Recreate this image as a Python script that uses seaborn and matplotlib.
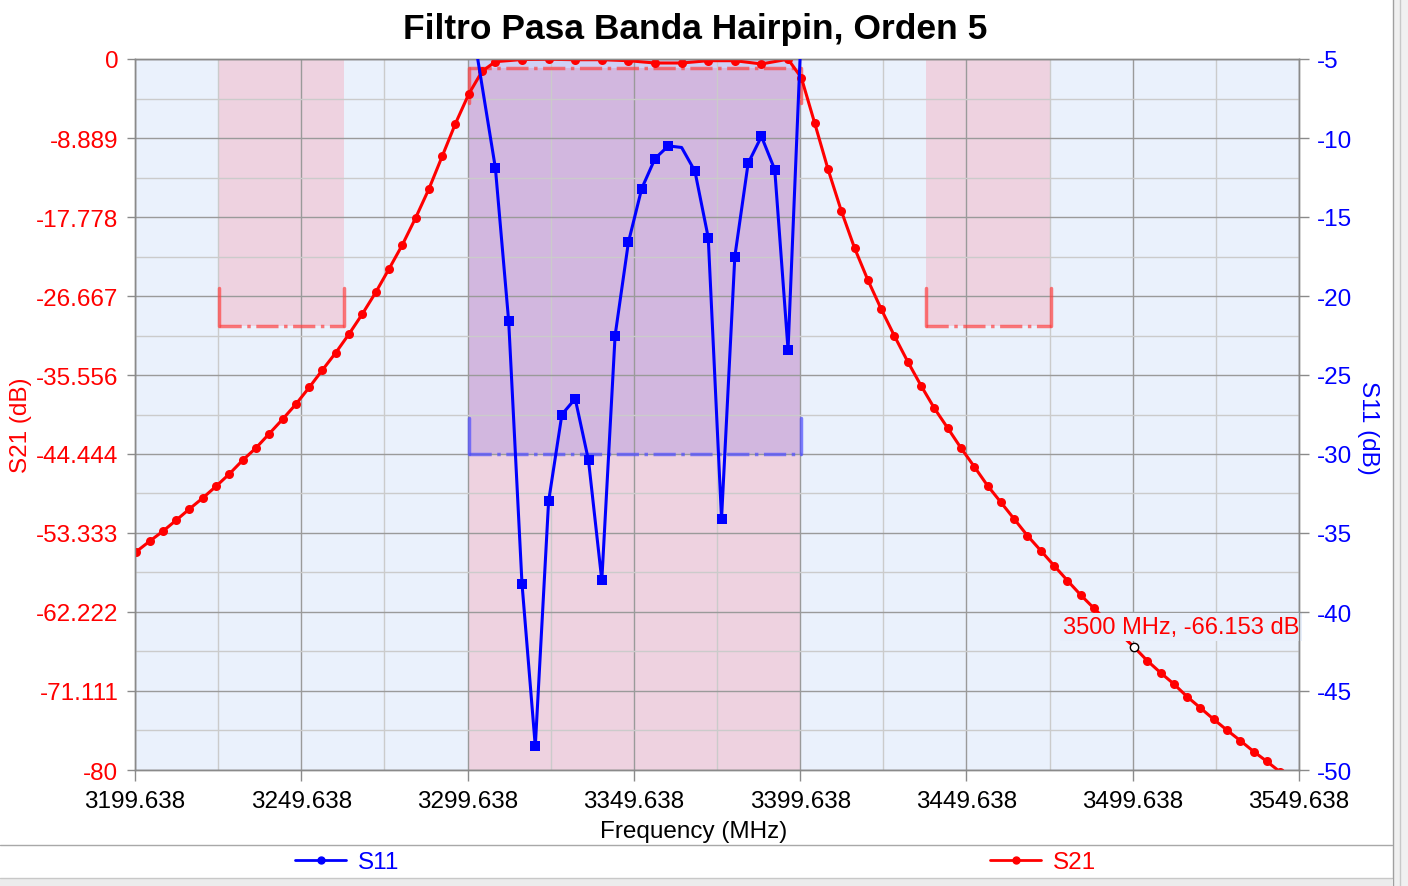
import matplotlib
matplotlib.use('Agg')
import matplotlib.pyplot as plt
from matplotlib.patches import Rectangle
from matplotlib.lines import Line2D
import numpy as np
import pandas as pd
import seaborn as sns

# S21 sweep (MHz / dB)
s21_freq = [3200, 3204, 3208, 3212, 3216, 3220, 3224, 3228, 3232, 3236,
            3240, 3244, 3248, 3252, 3256, 3260, 3264, 3268, 3272, 3276,
            3280, 3284, 3288, 3292, 3296, 3300, 3304, 3308,
            3316, 3324, 3332, 3340, 3348, 3356, 3364, 3372, 3380, 3388, 3396,
            3400, 3404, 3408, 3412, 3416, 3420, 3424, 3428, 3432, 3436,
            3440, 3444, 3448, 3452, 3456, 3460, 3464, 3468, 3472, 3476,
            3480, 3484, 3488, 3492, 3496, 3500, 3504, 3508, 3512, 3516,
            3520, 3524, 3528, 3532, 3536, 3540, 3544, 3548]
s21_db = [-55.44, -54.27, -53.14, -51.90, -50.63, -49.40, -48.08, -46.69, -45.15, -43.77,
          -42.16, -40.54, -38.85, -36.96, -34.99, -33.05, -30.94, -28.69, -26.27, -23.63,
          -20.93, -17.89, -14.63, -10.95, -7.26, -3.94, -1.38, -0.30,
          -0.06, -0.03, -0.08, -0.08, -0.19, -0.45, -0.45, -0.19, -0.19, -0.56, -0.02,
          -2.10, -7.20, -12.38, -17.07, -21.27, -24.87, -28.13, -31.17, -34.06, -36.76,
          -39.30, -41.52, -43.77, -45.87, -48.01, -49.88, -51.76, -53.64, -55.32, -57.01,
          -58.68, -60.31, -61.81, -63.29, -64.75, -66.15, -67.70, -69.05, -70.32, -71.75,
          -73.02, -74.30, -75.52, -76.70, -77.92, -79.04, -80.23, -81.40]

# S11 sweep (MHz / dB)
s11_freq = [3300, 3308, 3312, 3316, 3320, 3324, 3328, 3332, 3336, 3340,
            3344, 3348, 3352, 3356, 3360, 3364, 3368, 3372, 3376, 3380,
            3384, 3388, 3392, 3396, 3400]
s11_db = [-1.5, -11.9, -21.6, -38.2, -48.5, -33.0, -27.5, -26.5, -30.4, -38.0,
          -22.5, -16.6, -13.2, -11.3, -10.5, -10.6, -12.1, -16.3, -34.1, -17.5,
          -11.6, -9.9, -12.0, -23.4, -3.0]
s11_no_marker = [3364]

# filter masks
stop_bands = [(3225, 3262.5), (3437.5, 3475)]
stop_level = -30
pass_band = (3300, 3400)
pass_s21 = -1
pass_s11 = -30

# marker readout
marker_freq = 3500
marker_db = -66.153

x_ticks = ['3199.638', '3249.638', '3299.638', '3349.638', '3399.638',
           '3449.638', '3499.638', '3549.638']
s21_ticks = ['0', '-8.889', '-17.778', '-26.667', '-35.556', '-44.444',
             '-53.333', '-62.222', '-71.111', '-80']
s11_ticks = ['-5', '-10', '-15', '-20', '-25', '-30', '-35', '-40', '-45', '-50']

sns.set_theme(style='white')
plt.rcParams['font.family'] = ['Liberation Sans', 'DejaVu Sans']

df21 = pd.DataFrame({'f': s21_freq, 'db': s21_db})
df11 = pd.DataFrame({'f': s11_freq, 'db': s11_db})

fig = plt.figure(figsize=(14.08, 8.87), dpi=100)
ax = fig.add_axes([135 / 1408, 1 - 771 / 887, 1164 / 1408, 711 / 887])
ax2 = ax.twinx()

xt = [float(t) for t in x_ticks]
yt = [float(t) for t in s21_ticks]
y2t = [float(t) for t in s11_ticks]
ax.set_xlim(xt[0], xt[-1])
ax.set_ylim(yt[-1], yt[0])
ax2.set_ylim(y2t[-1], y2t[0])

ax.set_facecolor('#eaf1fc')
pink = (1.0, 0.39, 0.47, 0.21)
blue = (0.39, 0.31, 0.86, 0.20)
mask_red = (1.0, 0.25, 0.25, 0.7)
mask_blue = (0.3, 0.3, 1.0, 0.7)

# stop band masks
for f0, f1 in stop_bands:
    ax.add_patch(Rectangle((f0, stop_level), f1 - f0, 0 - stop_level,
                           facecolor=pink, edgecolor='none', zorder=0.5))
    ax.plot([f0, f1], [stop_level, stop_level], ls='-.', color=mask_red, lw=2.5, zorder=1.8)
    for f in (f0, f1):
        ax.plot([f, f], [stop_level, stop_level + 4.2], color=mask_red, lw=2.5, zorder=1.8)

# pass band masks
p0, p1 = pass_band
ax.add_patch(Rectangle((p0, yt[-1]), p1 - p0, pass_s21 - yt[-1],
                       facecolor=pink, edgecolor='none', zorder=0.5))
ax.add_patch(Rectangle((p0, pass_s11), p1 - p0, y2t[0] - pass_s11,
                       facecolor=blue, edgecolor='none', zorder=0.6,
                       transform=ax2.transData))
ax.plot([p0, p1], [pass_s21, pass_s21], ls='-.', color=mask_red, lw=2.5, zorder=1.8)
for f in pass_band:
    ax.plot([f, f], [pass_s21, pass_s21 - 4.0], color=mask_red, lw=2.5, zorder=1.8)
ax.plot([p0, p1], [pass_s11, pass_s11], ls='-.', color=mask_blue, lw=2.5, zorder=1.8,
        transform=ax2.transData)
for f in pass_band:
    ax.plot([f, f], [pass_s11, pass_s11 + 2.3], color=mask_blue, lw=2.5, zorder=1.8,
            transform=ax2.transData)

# grid
ax.set_xticks(xt)
ax.set_xticklabels(x_ticks)
ax.set_xticks([(a + b) / 2 for a, b in zip(xt[:-1], xt[1:])], minor=True)
ax.set_yticks(yt)
ax.set_yticklabels(s21_ticks)
ax.set_yticks([(a + b) / 2 for a, b in zip(yt[:-1], yt[1:])], minor=True)
ax2.set_yticks(y2t)
ax2.set_yticklabels(s11_ticks)
ax.set_axisbelow('line')
ax.grid(which='major', color='#9a9a9a', lw=1.0)
ax.grid(which='minor', color='#cbcbcb', lw=1.0)
ax2.grid(False)

# curves
sns.lineplot(data=df21, x='f', y='db', ax=ax, color='#ff0000', lw=2.2,
             marker='o', markersize=6.5, markeredgewidth=0, zorder=3)
mark_idx = [i for i, f in enumerate(s11_freq) if f not in s11_no_marker]
sns.lineplot(data=df11, x='f', y='db', ax=ax2, color='#0000ff', lw=2.2,
             marker='s', markersize=6.5, markeredgewidth=0, markevery=mark_idx, zorder=3)

# readout marker
ax.annotate(f'{marker_freq:.0f} MHz, {marker_db:.3f} dB', xy=(marker_freq, marker_db),
            xytext=(-71, 20), textcoords='offset pixels', ha='left', va='center',
            fontsize=17, color='#ff0000', zorder=6, annotation_clip=False,
            bbox=dict(boxstyle='square,pad=0.12', facecolor='#e8effb', edgecolor='none'))
ax.plot([marker_freq], [marker_db], marker='o', markersize=6, markerfacecolor='white',
        markeredgecolor='black', markeredgewidth=1, ls='none', zorder=7)

# axes styling
for a in (ax, ax2):
    for s in a.spines.values():
        s.set_color('#8a8a8a')
        s.set_linewidth(1.0)
ax.tick_params(axis='x', which='major', length=8, width=1, color='#8a8a8a',
               labelsize=17.5, labelcolor='black', pad=6.5, bottom=True)
ax.tick_params(axis='y', which='major', length=6, width=1, color='#8a8a8a',
               labelsize=17.5, labelcolor='#ff0000', pad=6, left=True)
ax.tick_params(which='minor', length=0)
ax2.tick_params(axis='y', which='major', length=7, width=1, color='#8a8a8a',
                labelsize=17.5, labelcolor='#0000ff', pad=6, right=True)

ax.set_xlabel('Frequency (MHz)', fontsize=17.5, color='black', va='center')
ax.xaxis.set_label_coords((694 - 135) / 1164, (771 - 832) / 711)
ax.set_ylabel('S21 (dB)', fontsize=17.5, color='#ff0000', va='center')
ax.yaxis.set_label_coords((21 - 135) / 1164, (771 - 425) / 711)
ax2.set_ylabel('S11 (dB)', fontsize=17.5, color='#0000ff', rotation=270, va='center')
ax2.yaxis.set_label_coords((1368 - 135) / 1164, (771 - 428) / 711)

fig.text(695 / 1408, 1 - 30 / 887, 'Filtro Pasa Banda Hairpin, Orden 5',
         ha='center', va='center', fontsize=25.5, fontweight='bold', color='black')

# legend strip
fig.add_artist(Line2D([0, 1392 / 1408], [1 - 846 / 887] * 2, transform=fig.transFigure,
                      color='#a8a8a8', lw=1))
for name, col, x0 in (('S11', '#0000ff', 295), ('S21', '#ff0000', 990)):
    h = Line2D([], [], color=col, lw=2, marker='o', markersize=5)
    fig.legend(handles=[h], labels=[name], loc='center left',
               bbox_to_anchor=(x0 / 1408, 1 - 863 / 887), frameon=False, fontsize=17.5,
               handlelength=2.1, handletextpad=0.5, borderpad=0, borderaxespad=0,
               labelcolor=col)

# window chrome
fig.add_artist(Rectangle((0, 0), 1392 / 1408, 8 / 887, transform=fig.transFigure,
                         facecolor='#ececec', edgecolor='none'))
fig.add_artist(Line2D([0, 1392 / 1408], [8 / 887] * 2, transform=fig.transFigure,
                      color='#c8c8c8', lw=1))
fig.add_artist(Rectangle((1393 / 1408, 0), 15 / 1408, 1, transform=fig.transFigure,
                         facecolor='#f0f0f0', edgecolor='none'))
fig.add_artist(Line2D([1393 / 1408] * 2, [0, 1], transform=fig.transFigure,
                      color='#a0a0a0', lw=1))
fig.add_artist(Line2D([1400 / 1408] * 2, [0, 1], transform=fig.transFigure,
                      color='#c8c8c8', lw=1))

fig.savefig('out.png', dpi=100)
